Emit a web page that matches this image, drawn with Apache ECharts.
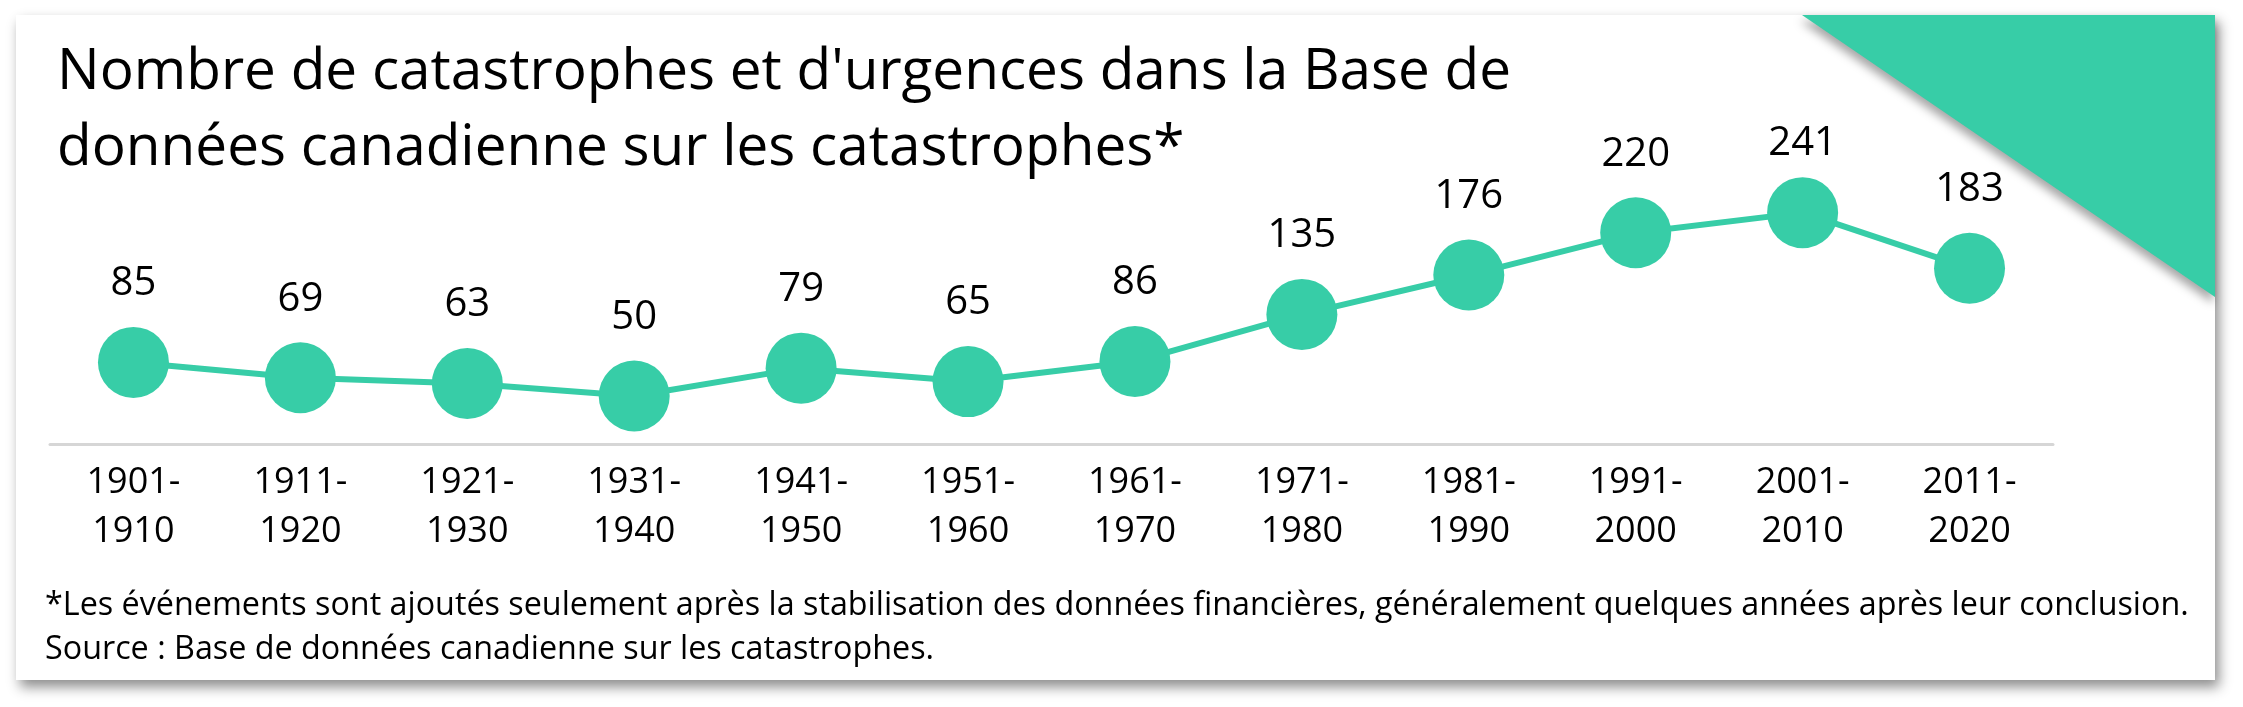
<!DOCTYPE html>
<html>
<head>
<meta charset="utf-8">
<title>Catastrophes</title>
<script src="https://cdn.jsdelivr.net/npm/echarts@6/dist/echarts.min.js"></script>
<style>
  html, body { margin: 0; padding: 0; background: #ffffff; }
  #chart { width: 2243px; height: 707px; }
</style>
</head>
<body>
<div id="chart"></div>
<script>
// données
var decennies = ['1901-\n1910', '1911-\n1920', '1921-\n1930', '1931-\n1940', '1941-\n1950', '1951-\n1960',
  '1961-\n1970', '1971-\n1980', '1981-\n1990', '1991-\n2000', '2001-\n2010', '2011-\n2020']
var nombres = [85, 69, 63, 50, 79, 65, 86, 135, 176, 220, 241, 183]
var titre = 'Nombre de catastrophes et d\'urgences dans la Base de\ndonnées canadienne sur les catastrophes*'
var notes = [
  '*Les événements sont ajoutés seulement après la stabilisation des données financières, généralement quelques années après leur conclusion.',
  'Source : Base de données canadienne sur les catastrophes.'
]

var vert = '#37cda7'
var police = '"Open Sans", "Noto Sans", sans-serif'
var maxi = Math.max.apply(null, nombres)

var chart = echarts.init(document.getElementById('chart'))
chart.setOption({
  backgroundColor: '#ffffff',
  animation: false,
  textStyle: { fontFamily: police },
  title: {
    text: titre,
    left: 57,
    top: 35,
    padding: 0,
    textStyle: { fontFamily: police, fontSize: 56.7, fontWeight: 'normal', color: '#000', lineHeight: 76 }
  },
  graphic: [
    { // carte
      type: 'rect', z: -10,
      shape: { x: 16, y: 15, width: 2199, height: 665 },
      style: { fill: '#fff', shadowBlur: 12, shadowColor: 'rgba(0,0,0,0.45)', shadowOffsetX: 4, shadowOffsetY: 7 }
    },
    { // coin
      type: 'polygon', z: -5,
      shape: { points: [[1802, 15], [2215, 15], [2215, 297]] },
      style: { fill: vert, shadowBlur: 10, shadowColor: 'rgba(0,0,0,0.35)', shadowOffsetX: -2, shadowOffsetY: 6 }
    },
    {
      type: 'text', left: 45, top: 590,
      style: { text: notes[0], fontFamily: police, fontSize: 32.3, fill: '#000' }
    },
    {
      type: 'text', left: 45, top: 634,
      style: { text: notes[1], fontFamily: police, fontSize: 32.3, fill: '#000' }
    }
  ],
  grid: { left: 50, right: 190, top: 204, bottom: 263 },
  xAxis: {
    type: 'category',
    data: decennies,
    axisLine: { lineStyle: { color: '#d6d6d6', width: 3 } },
    axisTick: { show: false },
    axisLabel: { color: '#000', fontSize: 36, lineHeight: 49, margin: 14, interval: 0, fontFamily: police }
  },
  yAxis: {
    type: 'value', min: 0, max: 250,
    show: false, splitLine: { show: false }
  },
  series: [{
    type: 'line',
    // l'étiquette du maximum est un peu plus près du point
    data: nombres.map(function (v) {
      return v === maxi ? { value: v, label: { distance: 14 } } : v
    }),
    symbol: 'circle',
    symbolSize: 71,
    lineStyle: { color: vert, width: 6 },
    itemStyle: { color: vert },
    label: { show: true, position: 'top', distance: 23, color: '#000', fontSize: 40, lineHeight: 40, fontFamily: police }
  }]
})
</script>
</body>
</html>
